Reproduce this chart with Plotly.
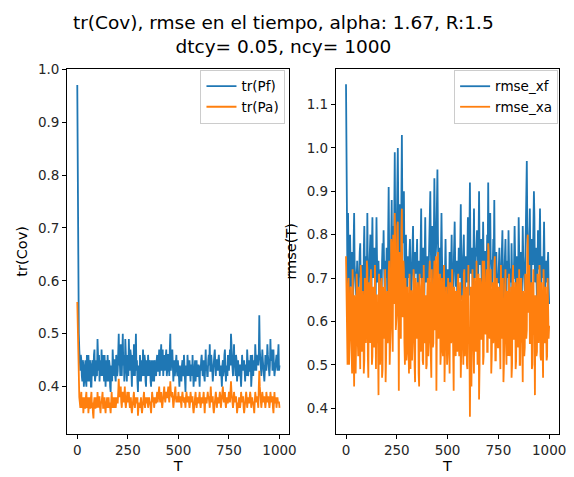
import plotly.graph_objects as go

# main samples at T = 0, 5, ..., 1000
T_main = list(range(0, 1001, 5))
# intermediate samples at T = 2.5, 7.5, ..., 997.5
T_mid = [t + 2.5 for t in range(0, 1000, 5)]

tr_pf = [
    0.97, 0.55, 0.47, 0.43, 0.45, 0.41, 0.44, 0.42, 0.45, 0.40,
    0.43, 0.46, 0.41, 0.44, 0.40, 0.45, 0.43, 0.47, 0.42, 0.44,
    0.49, 0.43, 0.41, 0.45, 0.47, 0.42, 0.44, 0.46, 0.40, 0.43,
    0.46, 0.41, 0.44, 0.39, 0.43, 0.47, 0.42, 0.45, 0.41, 0.44,
    0.43, 0.50, 0.45, 0.48, 0.42, 0.50, 0.46, 0.43, 0.47, 0.41,
    0.45, 0.49, 0.43, 0.46, 0.40, 0.44, 0.48, 0.42, 0.50, 0.45,
    0.39, 0.43, 0.46, 0.41, 0.44, 0.47, 0.42, 0.45, 0.40, 0.43,
    0.46, 0.42, 0.44, 0.40, 0.43, 0.45, 0.41, 0.44, 0.42, 0.46,
    0.43, 0.47, 0.44, 0.48, 0.45, 0.42, 0.46, 0.44, 0.47, 0.43,
    0.46, 0.42, 0.50, 0.44, 0.47, 0.41, 0.45, 0.43, 0.46, 0.42,
    0.44, 0.40, 0.43, 0.41, 0.45, 0.42, 0.44, 0.39, 0.43, 0.46,
    0.42, 0.45, 0.41, 0.44, 0.46, 0.40, 0.43, 0.41, 0.45, 0.42,
    0.44, 0.40, 0.43, 0.46, 0.42, 0.45, 0.41, 0.47, 0.44, 0.42,
    0.46, 0.48, 0.43, 0.45, 0.41, 0.44, 0.47, 0.42, 0.45, 0.43,
    0.46, 0.42, 0.44, 0.40, 0.45, 0.43, 0.47, 0.41, 0.44, 0.46,
    0.43, 0.47, 0.50, 0.45, 0.42, 0.48, 0.44, 0.46, 0.41, 0.45,
    0.42, 0.44, 0.40, 0.46, 0.43, 0.45, 0.41, 0.44, 0.47, 0.42,
    0.45, 0.43, 0.40, 0.46, 0.42, 0.44, 0.48, 0.43, 0.45, 0.44,
    0.535, 0.45, 0.42, 0.47, 0.44, 0.41, 0.46, 0.43, 0.48, 0.44,
    0.42, 0.49, 0.45, 0.43, 0.47, 0.42, 0.44, 0.46, 0.43, 0.48,
    0.44,
]
tr_pf_mid = [
    0.70, 0.50, 0.44, 0.46, 0.42, 0.45, 0.40, 0.44, 0.41, 0.46,
    0.41, 0.44, 0.45, 0.40, 0.44, 0.42, 0.46, 0.41, 0.45, 0.42,
    0.44, 0.46, 0.44, 0.42, 0.44, 0.46, 0.41, 0.43, 0.45, 0.41,
    0.43, 0.45, 0.40, 0.44, 0.41, 0.44, 0.45, 0.42, 0.46, 0.42,
    0.47, 0.44, 0.42, 0.46, 0.47, 0.44, 0.41, 0.49, 0.43, 0.46,
    0.42, 0.45, 0.47, 0.43, 0.46, 0.42, 0.45, 0.46, 0.43, 0.41,
    0.44, 0.41, 0.44, 0.45, 0.42, 0.44, 0.46, 0.41, 0.45, 0.42,
    0.43, 0.45, 0.41, 0.45, 0.41, 0.43, 0.45, 0.42, 0.45, 0.43,
    0.45, 0.42, 0.46, 0.43, 0.47, 0.44, 0.43, 0.45, 0.42, 0.46,
    0.44, 0.47, 0.43, 0.46, 0.44, 0.43, 0.42, 0.45, 0.43, 0.45,
    0.42, 0.44, 0.42, 0.44, 0.43, 0.46, 0.41, 0.44, 0.42, 0.44,
    0.44, 0.43, 0.44, 0.42, 0.43, 0.42, 0.45, 0.43, 0.42, 0.44,
    0.42, 0.44, 0.45, 0.44, 0.43, 0.42, 0.44, 0.43, 0.42, 0.45,
    0.44, 0.43, 0.46, 0.43, 0.44, 0.46, 0.42, 0.45, 0.44, 0.45,
    0.44, 0.43, 0.42, 0.44, 0.42, 0.46, 0.44, 0.43, 0.42, 0.44,
    0.45, 0.44, 0.48, 0.43, 0.45, 0.44, 0.42, 0.45, 0.43, 0.43,
    0.44, 0.42, 0.43, 0.44, 0.44, 0.43, 0.44, 0.42, 0.45, 0.44,
    0.43, 0.46, 0.42, 0.44, 0.45, 0.43, 0.45, 0.46, 0.44, 0.46,
    0.47, 0.43, 0.44, 0.45, 0.42, 0.43, 0.44, 0.45, 0.46, 0.43,
    0.44, 0.45, 0.47, 0.45, 0.44, 0.43, 0.45, 0.44, 0.46, 0.43,
]

tr_pa = [
    0.56, 0.45, 0.38, 0.36, 0.39, 0.37, 0.35, 0.38, 0.36, 0.39,
    0.37, 0.35, 0.38, 0.36, 0.39, 0.37, 0.34, 0.38, 0.36, 0.37,
    0.39, 0.36, 0.38, 0.35, 0.37, 0.39, 0.36, 0.38, 0.35, 0.37,
    0.36, 0.38, 0.37, 0.35, 0.39, 0.36, 0.38, 0.37, 0.36, 0.38,
    0.37, 0.415, 0.38, 0.40, 0.36, 0.39, 0.37, 0.40, 0.36, 0.38,
    0.37, 0.39, 0.36, 0.38, 0.35, 0.37, 0.39, 0.36, 0.38, 0.37,
    0.345, 0.37, 0.36, 0.38, 0.35, 0.37, 0.39, 0.36, 0.38, 0.37,
    0.36, 0.38, 0.37, 0.35, 0.39, 0.37, 0.36, 0.38, 0.37, 0.39,
    0.38, 0.40, 0.37, 0.39, 0.36, 0.38, 0.40, 0.37, 0.39, 0.38,
    0.40, 0.37, 0.41, 0.38, 0.39, 0.36, 0.38, 0.40, 0.37, 0.38,
    0.39, 0.37, 0.38, 0.36, 0.39, 0.37, 0.38, 0.36, 0.39, 0.37,
    0.38, 0.36, 0.39, 0.37, 0.38, 0.35, 0.37, 0.39, 0.36, 0.38,
    0.37, 0.39, 0.36, 0.38, 0.37, 0.39, 0.35, 0.38, 0.37, 0.39,
    0.38, 0.36, 0.40, 0.37, 0.38, 0.35, 0.37, 0.39, 0.36, 0.38,
    0.37, 0.39, 0.36, 0.38, 0.40, 0.37, 0.39, 0.36, 0.38, 0.37,
    0.39, 0.37, 0.41, 0.38, 0.36, 0.39, 0.37, 0.38, 0.35, 0.37,
    0.38, 0.36, 0.39, 0.37, 0.38, 0.35, 0.37, 0.39, 0.36, 0.38,
    0.37, 0.39, 0.36, 0.38, 0.37, 0.35, 0.39, 0.37, 0.38, 0.36,
    0.43, 0.38, 0.36, 0.39, 0.37, 0.38, 0.36, 0.39, 0.37, 0.38,
    0.36, 0.39, 0.37, 0.38, 0.35, 0.39, 0.37, 0.36, 0.38, 0.37,
    0.36,
]
tr_pa_mid = [
    0.50, 0.40, 0.37, 0.38, 0.36, 0.38, 0.37, 0.36, 0.38, 0.36,
    0.38, 0.37, 0.36, 0.38, 0.36, 0.35, 0.37, 0.36, 0.38, 0.36,
    0.37, 0.38, 0.36, 0.37, 0.38, 0.36, 0.37, 0.36, 0.37, 0.38,
    0.37, 0.36, 0.36, 0.37, 0.37, 0.37, 0.36, 0.38, 0.37, 0.37,
    0.39, 0.39, 0.39, 0.37, 0.38, 0.38, 0.38, 0.37, 0.37, 0.39,
    0.38, 0.37, 0.37, 0.36, 0.36, 0.38, 0.37, 0.37, 0.37, 0.38,
    0.36, 0.36, 0.37, 0.36, 0.36, 0.38, 0.37, 0.37, 0.37, 0.38,
    0.37, 0.37, 0.36, 0.37, 0.38, 0.38, 0.37, 0.37, 0.38, 0.37,
    0.39, 0.38, 0.38, 0.37, 0.37, 0.39, 0.38, 0.38, 0.38, 0.39,
    0.38, 0.39, 0.39, 0.38, 0.37, 0.37, 0.39, 0.38, 0.38, 0.37,
    0.38, 0.38, 0.37, 0.38, 0.38, 0.37, 0.37, 0.38, 0.38, 0.38,
    0.37, 0.37, 0.38, 0.38, 0.36, 0.36, 0.38, 0.37, 0.37, 0.37,
    0.38, 0.37, 0.37, 0.37, 0.38, 0.37, 0.37, 0.37, 0.38, 0.38,
    0.37, 0.38, 0.38, 0.38, 0.36, 0.36, 0.38, 0.38, 0.37, 0.37,
    0.38, 0.38, 0.37, 0.39, 0.38, 0.38, 0.37, 0.37, 0.37, 0.38,
    0.38, 0.39, 0.39, 0.37, 0.37, 0.38, 0.38, 0.37, 0.36, 0.36,
    0.37, 0.37, 0.38, 0.38, 0.36, 0.36, 0.38, 0.38, 0.37, 0.37,
    0.38, 0.38, 0.37, 0.37, 0.36, 0.37, 0.38, 0.38, 0.37, 0.40,
    0.40, 0.37, 0.37, 0.38, 0.38, 0.37, 0.37, 0.38, 0.38, 0.37,
    0.37, 0.38, 0.38, 0.36, 0.37, 0.37, 0.38, 0.37, 0.37, 0.37,
]

rmse_xf = [
    1.147, 0.72, 0.85, 0.64, 0.80, 0.68, 0.76, 0.62, 0.85, 0.70,
    0.66, 0.74, 0.60, 0.71, 0.78, 0.65, 0.73, 0.59, 0.82, 0.68,
    0.75, 0.85, 0.63, 0.72, 0.80, 0.66, 0.84, 0.70, 0.77, 0.61,
    0.84, 0.69, 0.74, 0.56, 0.72, 0.65, 0.78, 0.81, 0.68, 0.74,
    0.77, 0.62, 0.91, 0.73, 0.66, 0.88, 0.75, 0.70, 0.99, 0.76,
    0.82, 1.00, 0.72, 0.87, 0.69, 1.03, 0.78, 0.90, 0.68, 0.80,
    0.64, 0.75, 0.70, 0.79, 0.60, 0.73, 0.82, 0.66, 0.76, 0.71,
    0.79, 0.58, 0.74, 0.70, 0.86, 0.67, 0.77, 0.62, 0.84, 0.69,
    0.75, 0.65, 0.78, 0.90, 0.70, 0.82, 0.66, 0.93, 0.74, 0.79,
    0.95, 0.71, 0.77, 0.64, 0.85, 0.69, 0.73, 0.60, 0.79, 0.67,
    0.72, 0.57, 0.76, 0.66, 0.80, 0.62, 0.71, 0.83, 0.68, 0.74,
    0.61, 0.77, 0.70, 0.87, 0.65, 0.73, 0.80, 0.63, 0.75, 0.69,
    0.84, 0.66, 0.92, 0.71, 0.77, 0.64, 0.86, 0.70, 0.75, 0.81,
    0.68, 0.90, 0.73, 0.79, 0.62, 0.83, 0.71, 0.76, 0.66, 0.80,
    0.92, 0.70, 0.85, 0.74, 0.68, 0.79, 0.88, 0.65, 0.76, 0.71,
    0.69, 0.77, 0.63, 0.73, 0.81, 0.60, 0.75, 0.79, 0.67, 0.74,
    0.81, 0.66, 0.72, 0.78, 0.63, 0.70, 0.82, 0.68, 0.75, 0.61,
    0.84, 0.70, 0.76, 0.65, 0.82, 0.72, 0.67, 0.79, 0.97, 0.74,
    0.71, 0.86, 0.66, 0.79, 0.73, 0.90, 0.69, 0.77, 0.64, 0.81,
    0.72, 0.86, 0.67, 0.75, 0.70, 0.83, 0.66, 0.74, 0.69, 0.76,
    0.64,
]
rmse_xf_mid = [
    0.85, 0.66, 0.75, 0.70, 0.73, 0.71, 0.66, 0.78, 0.73, 0.66,
    0.70, 0.68, 0.70, 0.76, 0.69, 0.70, 0.64, 0.76, 0.72, 0.74,
    0.70, 0.72, 0.69, 0.78, 0.71, 0.77, 0.73, 0.74, 0.68, 0.72,
    0.75, 0.73, 0.66, 0.69, 0.68, 0.74, 0.72, 0.73, 0.72, 0.70,
    0.68, 0.80, 0.76, 0.69, 0.79, 0.72, 0.82, 0.88, 0.80, 0.77,
    0.92, 0.85, 0.80, 0.76, 0.88, 0.84, 0.82, 0.75, 0.73, 0.72,
    0.70, 0.72, 0.76, 0.68, 0.69, 0.78, 0.71, 0.72, 0.74, 0.75,
    0.66, 0.70, 0.73, 0.80, 0.72, 0.73, 0.68, 0.75, 0.73, 0.72,
    0.70, 0.73, 0.84, 0.77, 0.76, 0.72, 0.80, 0.82, 0.76, 0.88,
    0.80, 0.74, 0.70, 0.76, 0.75, 0.71, 0.66, 0.72, 0.71, 0.70,
    0.65, 0.68, 0.71, 0.73, 0.70, 0.67, 0.78, 0.74, 0.71, 0.66,
    0.71, 0.74, 0.78, 0.73, 0.70, 0.77, 0.71, 0.69, 0.72, 0.75,
    0.74, 0.80, 0.76, 0.73, 0.70, 0.76, 0.73, 0.77, 0.78, 0.72,
    0.78, 0.76, 0.77, 0.70, 0.73, 0.74, 0.76, 0.72, 0.73, 0.74,
    0.77, 0.75, 0.74, 0.71, 0.73, 0.75, 0.72, 0.71, 0.70, 0.69,
    0.73, 0.70, 0.68, 0.77, 0.70, 0.68, 0.72, 0.71, 0.73, 0.70,
    0.74, 0.72, 0.69, 0.71, 0.70, 0.74, 0.75, 0.72, 0.70, 0.68,
    0.76, 0.73, 0.72, 0.71, 0.75, 0.70, 0.73, 0.88, 0.82, 0.72,
    0.76, 0.75, 0.72, 0.77, 0.80, 0.84, 0.73, 0.72, 0.70, 0.75,
    0.78, 0.74, 0.71, 0.72, 0.75, 0.73, 0.72, 0.71, 0.73, 0.68,
]

rmse_xa = [
    0.75, 0.55, 0.68, 0.50, 0.62, 0.58, 0.48, 0.65, 0.45, 0.60,
    0.56, 0.67, 0.52, 0.61, 0.49, 0.70, 0.57, 0.63, 0.51, 0.66,
    0.59, 0.72, 0.47, 0.62, 0.55, 0.68, 0.52, 0.64, 0.57, 0.50,
    0.66, 0.58, 0.43, 0.61, 0.54, 0.70, 0.49, 0.63, 0.57, 0.46,
    0.64, 0.55, 0.71, 0.50, 0.60, 0.77, 0.53, 0.66, 0.85, 0.58,
    0.62, 0.83, 0.44, 0.68, 0.56, 0.86, 0.61, 0.72, 0.50, 0.65,
    0.53, 0.63, 0.48, 0.60, 0.67, 0.51, 0.58, 0.69, 0.46, 0.61,
    0.57, 0.65, 0.45, 0.62, 0.54, 0.70, 0.50, 0.63, 0.58, 0.49,
    0.66, 0.52, 0.71, 0.57, 0.47, 0.63, 0.55, 0.74, 0.59, 0.44,
    0.72, 0.56, 0.64, 0.50, 0.68, 0.54, 0.61, 0.46, 0.65, 0.58,
    0.53, 0.63, 0.48, 0.67, 0.57, 0.61, 0.44, 0.66, 0.52, 0.60,
    0.69, 0.55, 0.62, 0.47, 0.64, 0.58, 0.71, 0.52, 0.60, 0.50,
    0.63, 0.55, 0.38, 0.68, 0.57, 0.61, 0.48, 0.66, 0.53, 0.59,
    0.64, 0.42, 0.70, 0.56, 0.60, 0.50, 0.74, 0.58, 0.63, 0.53,
    0.78, 0.57, 0.66, 0.48, 0.62, 0.55, 0.71, 0.51, 0.60, 0.66,
    0.54, 0.63, 0.49, 0.68, 0.58, 0.46, 0.61, 0.72, 0.50, 0.59,
    0.65, 0.52, 0.62, 0.47, 0.70, 0.56, 0.60, 0.49, 0.64, 0.55,
    0.61, 0.50, 0.67, 0.57, 0.46, 0.63, 0.54, 0.69, 0.58, 0.80,
    0.71, 0.55, 0.62, 0.49, 0.66, 0.57, 0.43, 0.60, 0.53, 0.64,
    0.58, 0.69, 0.51, 0.62, 0.47, 0.66, 0.56, 0.60, 0.52, 0.63,
    0.59,
]
rmse_xa_mid = [
    0.66, 0.50, 0.70, 0.55, 0.68, 0.49, 0.72, 0.54, 0.66, 0.48,
    0.71, 0.56, 0.68, 0.50, 0.73, 0.53, 0.67, 0.48, 0.70, 0.55,
    0.74, 0.52, 0.69, 0.57, 0.72, 0.50, 0.68, 0.54, 0.73, 0.49,
    0.66, 0.55, 0.71, 0.50, 0.69, 0.47, 0.68, 0.56, 0.72, 0.52,
    0.67, 0.58, 0.74, 0.55, 0.79, 0.60, 0.80, 0.64, 0.78, 0.62,
    0.82, 0.66, 0.76, 0.58, 0.81, 0.62, 0.74, 0.55, 0.70, 0.51,
    0.68, 0.53, 0.71, 0.49, 0.67, 0.55, 0.72, 0.50, 0.70, 0.56,
    0.69, 0.48, 0.71, 0.53, 0.68, 0.51, 0.73, 0.55, 0.66, 0.50,
    0.70, 0.56, 0.74, 0.52, 0.72, 0.54, 0.69, 0.58, 0.75, 0.60,
    0.76, 0.57, 0.71, 0.53, 0.70, 0.52, 0.73, 0.55, 0.68, 0.50,
    0.70, 0.51, 0.69, 0.55, 0.72, 0.49, 0.68, 0.56, 0.67, 0.53,
    0.71, 0.52, 0.69, 0.57, 0.66, 0.50, 0.72, 0.54, 0.68, 0.49,
    0.73, 0.55, 0.68, 0.45, 0.72, 0.52, 0.70, 0.55, 0.74, 0.50,
    0.71, 0.50, 0.69, 0.56, 0.74, 0.52, 0.70, 0.57, 0.72, 0.53,
    0.76, 0.56, 0.72, 0.52, 0.69, 0.57, 0.75, 0.51, 0.70, 0.54,
    0.68, 0.53, 0.73, 0.56, 0.70, 0.50, 0.72, 0.55, 0.67, 0.52,
    0.71, 0.54, 0.68, 0.50, 0.73, 0.56, 0.69, 0.51, 0.70, 0.54,
    0.72, 0.50, 0.70, 0.55, 0.67, 0.52, 0.71, 0.56, 0.76, 0.62,
    0.73, 0.55, 0.69, 0.50, 0.72, 0.58, 0.66, 0.52, 0.71, 0.55,
    0.73, 0.52, 0.69, 0.50, 0.72, 0.55, 0.68, 0.51, 0.70, 0.56,
]


def interleave(main, mid):
    xs, ys = [], []
    for k in range(len(mid)):
        xs += [T_main[k], T_mid[k]]
        ys += [main[k], mid[k]]
    xs.append(T_main[-1])
    ys.append(main[-1])
    return xs, ys


BLUE = "#1f77b4"
ORANGE = "#ff7f0e"
FONT = "DejaVu Sans"
W, H = 574, 477
LW = 1.8


def px_x(p):
    return p / W


def px_y(p):
    return 1 - p / H


fig = go.Figure()
for name, main, mid, color, xa, ya, lg in [
    ("tr(Pf)", tr_pf, tr_pf_mid, BLUE, "x", "y", "legend"),
    ("tr(Pa)", tr_pa, tr_pa_mid, ORANGE, "x", "y", "legend"),
    ("rmse_xf", rmse_xf, rmse_xf_mid, BLUE, "x2", "y2", "legend2"),
    ("rmse_xa", rmse_xa, rmse_xa_mid, ORANGE, "x2", "y2", "legend2"),
]:
    xs, ys = interleave(main, mid)
    fig.add_trace(go.Scatter(x=xs, y=ys, mode="lines", name=name,
                             line=dict(color=color, width=LW),
                             xaxis=xa, yaxis=ya, legend=lg))

axis_common = dict(showline=True, mirror=True, linecolor="black", linewidth=1,
                   ticks="outside", ticklen=4, tickcolor="black", showgrid=False,
                   zeroline=False, tickfont=dict(family=FONT, size=13.5, color="#262626"))
title_font = dict(family=FONT, size=14.5, color="black")

ydom = [px_y(433), px_y(62)]
xticks = [0, 250, 500, 750, 1000]
fig.update_layout(
    width=W, height=H,
    margin=dict(l=0, r=0, t=0, b=0),
    paper_bgcolor="white", plot_bgcolor="white",
    font=dict(family=FONT, color="black"),
    xaxis=dict(domain=[px_x(68), px_x(293)], range=[-50, 1049], tickvals=xticks,
               title=dict(text="T", font=title_font, standoff=3), anchor="y", **axis_common),
    yaxis=dict(domain=ydom, range=[0.311, 1.0005], tickvals=[0.4, 0.5, 0.6, 0.7, 0.8, 0.9, 1.0],
               tickformat=".1f", title=dict(text="tr(Cov)", font=title_font, standoff=6),
               anchor="x", **axis_common),
    xaxis2=dict(domain=[px_x(340), px_x(566)], range=[-50, 1049], tickvals=xticks,
                title=dict(text="T", font=title_font, standoff=3), anchor="y2", **axis_common),
    yaxis2=dict(domain=ydom, range=[0.341, 1.182], tickvals=[0.4, 0.5, 0.6, 0.7, 0.8, 0.9, 1.0, 1.1],
                tickformat=".1f", title=dict(text="rmse(T)", font=title_font, standoff=6),
                anchor="x2", **axis_common),
    legend=dict(x=px_x(289), y=px_y(63), xanchor="right", yanchor="top",
                bgcolor="rgba(255,255,255,0.8)", bordercolor="#cccccc", borderwidth=1,
                font=dict(family=FONT, size=13.5), tracegroupgap=0, itemwidth=30),
    legend2=dict(x=px_x(565), y=px_y(63), xanchor="right", yanchor="top",
                 bgcolor="rgba(255,255,255,0.8)", bordercolor="#cccccc", borderwidth=1,
                 font=dict(family=FONT, size=13.5), tracegroupgap=0, itemwidth=30),
    annotations=[
        dict(text="tr(Cov), rmse en el tiempo, alpha: 1.67, R:1.5<br>dtcy= 0.05, ncy= 1000",
             x=0.5, y=px_y(2), xref="paper", yref="paper", xanchor="center", yanchor="top",
             showarrow=False, font=dict(family=FONT, size=18.5, color="black")),
    ],
)

fig.write_html("out.html")
